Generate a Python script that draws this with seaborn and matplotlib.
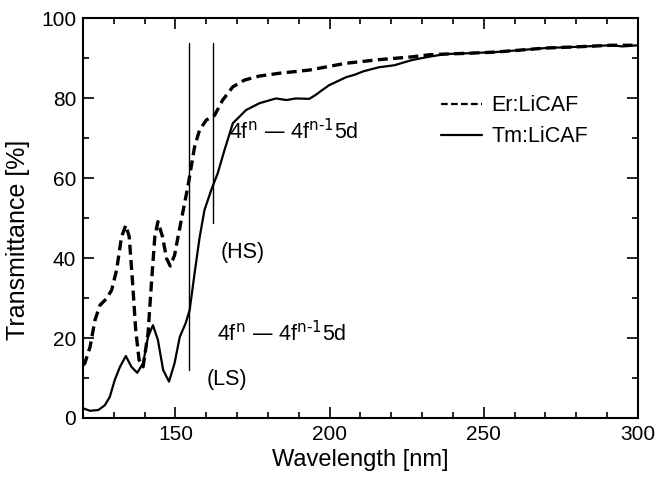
import pandas as pd
import matplotlib.pyplot as plt
import seaborn as sns
from matplotlib.ticker import MultipleLocator
from matplotlib.lines import Line2D

# Er:LiCAF (dashed)
er_wl = [120, 120.6, 122.3, 123.9, 125.5, 127.7, 129.3, 130.9, 132.5, 133.9, 135,
         136.1, 137.1, 138.2, 139.5, 141.1, 142.2, 143.3, 144.3, 145.8, 147.1,
         148.3, 149.7, 151, 152.4, 154, 155.1, 156.2, 157.8, 160, 162.7, 165.3,
         168.6, 172.4, 177.2, 183.7, 193.4, 205.3, 216, 226.7, 232, 237.6, 245,
         253.8, 262, 270, 280, 291.3, 300]
er_t = [13.2, 13.7, 17.8, 24.5, 28.2, 29.9, 32, 37, 45.3, 48.2, 45.3,
        33.7, 22, 14.5, 12.8, 21.2, 33.7, 45.3, 49.1, 45.3, 39.9,
        38, 40.7, 46, 51.5, 57.8, 62.8, 67.8, 72, 74.5, 75.7, 79.5,
        82.8, 84.5, 85.5, 86.2, 87, 88.7, 89.6, 90.3, 90.8, 91, 91.2,
        91.5, 92, 92.5, 92.8, 93.2, 93.2]

# Tm:LiCAF (solid)
tm_wl = [120, 120.1, 122.3, 125, 127.1, 128.7, 130.3, 132, 133.9, 135.7, 137.6,
         139.5, 141.1, 142.7, 144.3, 146, 147.9, 149.7, 151.4, 153.3, 154.6,
         156.2, 157.8, 159.4, 161.6, 163.7, 165.9, 168.6, 172.9, 177.2, 182.6,
         186, 189, 193.4, 195.5, 197.6, 199.8, 202, 205.3, 208, 211, 216, 221,
         226.7, 232, 237.6, 245, 253.8, 262, 270, 280, 291.3, 295, 300]
tm_t = [2.5, 2.4, 1.8, 2, 3.2, 5.3, 9.5, 12.8, 15.5, 12.8, 11.3,
        13.7, 20.3, 23.2, 19.5, 12, 9.1, 13.7, 20.3, 23.7, 27,
        36.2, 45, 52, 57, 61.2, 67, 73.7, 77, 78.7, 79.9,
        79.5, 79.9, 79.8, 80.8, 82, 83.2, 84, 85.2, 85.8, 86.7, 87.7, 88.2,
        89.5, 90.3, 91, 91.2, 91.5, 92, 92.5, 92.8, 93.2, 92.9, 93.2]

df = pd.concat([
    pd.DataFrame({"wl": er_wl, "T": er_t, "sample": "Er:LiCAF"}),
    pd.DataFrame({"wl": tm_wl, "T": tm_t, "sample": "Tm:LiCAF"}),
])

sns.set_style("ticks")
plt.rcParams['font.family'] = ['Liberation Sans', 'DejaVu Sans']
plt.rcParams.update({"text.color": "black", "axes.labelcolor": "black",
                     "xtick.color": "black", "ytick.color": "black",
                     "axes.edgecolor": "black"})

fig = plt.figure(figsize=(6.56, 4.83), dpi=100)
ax = fig.add_axes([0.1265, 0.1346, 0.846, 0.828])

sns.lineplot(data=df, x="wl", y="T", style="sample", color="black",
             dashes={"Er:LiCAF": (3, 1.6), "Tm:LiCAF": ""},
             size="sample", sizes={"Er:LiCAF": 2.4, "Tm:LiCAF": 1.6},
             estimator=None, sort=False, ax=ax, legend=False)

# vertical markers
ax.plot([154.3, 154.3], [12, 93.7], color="black", lw=1)
ax.plot([162.3, 162.3], [48.7, 93.7], color="black", lw=1)

label = r"4f$^{\rm n}$ — 4f$^{\rm n\text{-}1}$5d"
ax.text(167.5, 71.5, label, fontsize=15.5, va="center")
ax.text(164.8, 41.5, "(HS)", fontsize=15.5, va="center")
ax.text(163.4, 21, label, fontsize=15.5, va="center")
ax.text(160.2, 9.5, "(LS)", fontsize=15.5, va="center")

handles = [Line2D([], [], color="black", lw=1.6, ls=(0, (3, 1.5))),
           Line2D([], [], color="black", lw=1.6)]
ax.legend(handles, ["Er:LiCAF", "Tm:LiCAF"], loc="upper left",
          bbox_to_anchor=(0.61, 0.855), frameon=False, fontsize=15.5,
          handlelength=1.9, handletextpad=0.45, labelspacing=0.45)

ax.set_xlim(120, 300)
ax.set_ylim(0, 100)
ax.xaxis.set_major_locator(MultipleLocator(50))
ax.xaxis.set_minor_locator(MultipleLocator(10))
ax.yaxis.set_major_locator(MultipleLocator(20))
ax.yaxis.set_minor_locator(MultipleLocator(10))
ax.tick_params(which="both", direction="in", top=True, right=True,
               labelsize=15, width=1.2, pad=5)
ax.tick_params(which="major", length=8)
ax.tick_params(which="minor", length=4)
for s in ax.spines.values():
    s.set_linewidth(1.5)

ax.set_xlabel("Wavelength [nm]", fontsize=17, labelpad=4)
ax.set_ylabel("Transmittance [%]", fontsize=18)
ax.yaxis.set_label_coords(-0.095, 0.445)

fig.savefig("out.png", dpi=100)
